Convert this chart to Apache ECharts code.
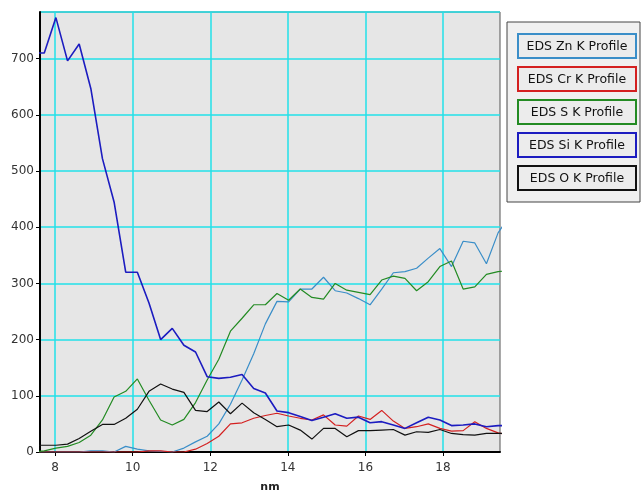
<!DOCTYPE html>
<html>
<head>
<meta charset="utf-8">
<title>EDS Line Profile</title>
<script src="https://cdn.jsdelivr.net/npm/echarts@6/dist/echarts.min.js"></script>
<style>
  html, body { margin: 0; padding: 0; background: #ffffff; }
  #chart { width: 642px; height: 492px; }
</style>
</head>
<body>
<div id="chart"></div>
<script>
// Scan position along the line profile (nm)
const positions = [7.42, 7.72, 8.02, 8.32, 8.62, 8.92, 9.22, 9.52, 9.82, 10.12,
  10.42, 10.72, 11.02, 11.32, 11.62, 11.92, 12.22, 12.52, 12.82, 13.12,
  13.42, 13.72, 14.02, 14.32, 14.62, 14.92, 15.22, 15.52, 15.82, 16.12,
  16.42, 16.72, 17.02, 17.32, 17.62, 17.92, 18.22, 18.52, 18.82, 19.12,
  19.42, 19.72];

// Counts per element
const znK = [0, 0, 0, 0, 0, 2, 2, 0, 10, 5, 2, 1, 0, 7, 18, 28, 50, 85, 128, 175,
  228, 268, 267, 290, 290, 311, 287, 283, 273, 262, 290, 319, 321, 327, 345, 362, 330, 375, 372, 335,
  390, 420];
const crK = [0, 0, 0, 0, 0, 0, 0, 0, 0, 0, 2, 2, 0, 0, 5, 15, 28, 50, 52, 60,
  65, 69, 64, 60, 57, 66, 48, 46, 64, 58, 74, 55, 42, 45, 50, 42, 37, 38, 54, 42,
  34, 30];
const sK = [0, 2, 7, 10, 17, 30, 57, 98, 108, 130, 92, 57, 48, 58, 88, 128, 165, 215, 238, 262,
  262, 282, 270, 290, 275, 272, 300, 288, 284, 280, 306, 313, 309, 287, 303, 330, 340, 290, 294, 316,
  321, 323];
const siK = [710, 710, 773, 696, 726, 647, 522, 445, 320, 320, 265, 200, 220, 190, 178, 134, 131, 133, 138, 113,
  105, 73, 70, 63, 56, 62, 68, 60, 62, 52, 54, 48, 42, 52, 62, 57, 47, 48, 50, 45,
  47, 47];
const oK = [12, 12, 12, 14, 24, 37, 49, 49, 60, 76, 108, 121, 112, 106, 74, 72, 89, 68, 87, 70,
  58, 45, 48, 39, 23, 42, 42, 27, 38, 38, 39, 40, 30, 36, 35, 40, 33, 31, 30, 33,
  33, 33];

const seriesNames = ['EDS Zn K Profile', 'EDS Cr K Profile', 'EDS S K Profile', 'EDS Si K Profile', 'EDS O K Profile'];
const xTickValues = [8, 10, 12, 14, 16, 18];

const colors = ['#3a8ec8', '#d42020', '#238b23', '#1c1cc0', '#111111'];
const widths = [1.2, 1.2, 1.2, 1.6, 1.2];
const values = [znK, crK, sK, siK, oK];
const richKeys = ['zn', 'cr', 's', 'si', 'o'];

const FONT = 'DejaVu Sans';

// Each legend entry sits in its own box outlined in the series colour
const rich = {};
richKeys.forEach((k, i) => {
  rich[k] = {
    width: 108,
    align: 'center',
    padding: [5, 4, 4, 4],
    borderColor: colors[i],
    borderWidth: 2,
    backgroundColor: '#ececec',
    color: '#111',
    fontFamily: FONT,
    fontSize: 12.5,
    lineHeight: 15
  };
});

const chart = echarts.init(document.getElementById('chart'), null, { renderer: 'canvas' });

chart.setOption({
  animation: false,
  backgroundColor: '#ffffff',
  grid: {
    left: 40, top: 12, right: 142, bottom: 40,
    outerBoundsMode: 'none',
    containLabel: false,
    show: true,
    backgroundColor: '#e6e6e6',
    borderColor: '#555555',
    borderWidth: 1
  },
  legend: {
    orient: 'vertical',
    left: 507,
    top: 22,
    padding: [11, 3, 11, 7],
    itemGap: 7,
    itemWidth: 0,
    itemHeight: 0,
    icon: 'rect',
    backgroundColor: '#f0f0f0',
    borderColor: '#444444',
    borderWidth: 1,
    selectedMode: false,
    data: seriesNames,
    formatter: name => '{' + richKeys[seriesNames.indexOf(name)] + '|' + name + '}',
    textStyle: { rich: rich }
  },
  xAxis: {
    type: 'value',
    min: 7.61,
    max: 19.47,
    name: 'nm',
    nameLocation: 'middle',
    nameGap: 30,
    nameTextStyle: { fontFamily: FONT, fontSize: 11, fontWeight: 'bold', color: '#222' },
    axisLine: { show: true, onZero: false, lineStyle: { color: '#000', width: 2 } },
    axisTick: { show: true, length: 4, customValues: xTickValues, lineStyle: { color: '#000' } },
    axisLabel: { customValues: xTickValues, margin: 10, fontFamily: FONT, fontSize: 12, color: '#333' },
    splitLine: { show: true, lineStyle: { color: '#22e0e8', width: 1.5 } }
  },
  yAxis: {
    type: 'value',
    min: 0,
    max: 783,
    interval: 100,
    axisLine: { show: true, lineStyle: { color: '#000', width: 2 } },
    axisTick: { show: true, length: 4, lineStyle: { color: '#000' } },
    axisLabel: { showMaxLabel: false, margin: 6, fontFamily: FONT, fontSize: 12, color: '#333' },
    splitLine: { show: true, lineStyle: { color: '#22e0e8', width: 1.5 } }
  },
  series: seriesNames.map((name, i) => ({
    name: name,
    type: 'line',
    data: positions.map((x, j) => [x, values[i][j]]),
    showSymbol: false,
    symbol: 'none',
    clip: true,
    color: colors[i],
    lineStyle: { color: colors[i], width: widths[i] }
  }))
});
</script>
</body>
</html>
